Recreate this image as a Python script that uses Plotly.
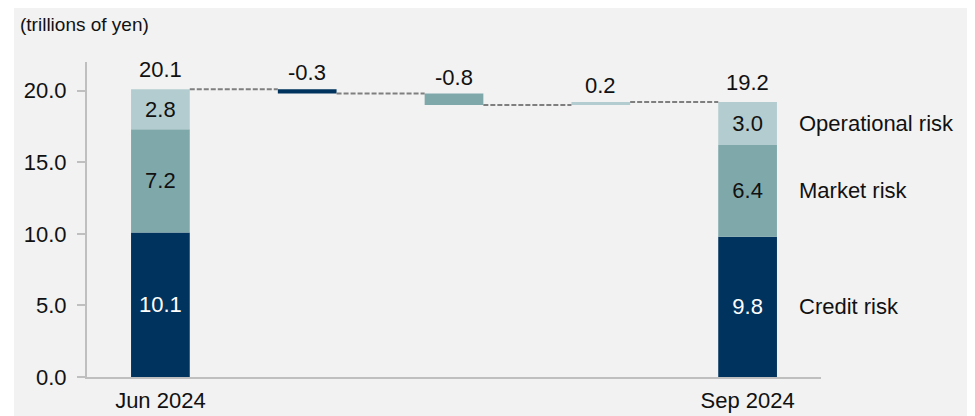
"""
Risk-weighted assets bridge, Jun 2024 -> Sep 2024
Stacked bars with floating change bars in between
"""

import plotly.graph_objects as go

# ---- data (trillions of yen) ----
periods = ["Jun 2024", "Sep 2024"]
risk_types = ["Credit risk", "Market risk", "Operational risk"]
jun_values = [10.1, 7.2, 2.8]
sep_values = [9.8, 6.4, 3.0]
jun_total = 20.1
sep_total = 19.2
changes = [-0.3, -0.8, 0.2]   # credit, market, operational

colors = ["#00335e", "#7fa8ab", "#b3cccf"]
text_colors = ["white", "#111111", "#111111"]

FONT = "Liberation Sans, Arial, sans-serif"
FS = 22
BAR_W = 0.4
DASH = dict(color="#7f7f7f", width=2, dash="5px,2px")

fig = go.Figure()

# stacked end bars at x=0 and x=4
x_ends = [0, 4]
base_jun, base_sep = 0.0, 0.0
for i, name in enumerate(risk_types):
    fig.add_trace(go.Bar(
        x=x_ends,
        y=[jun_values[i], sep_values[i]],
        base=[base_jun, base_sep],
        width=BAR_W,
        marker=dict(color=colors[i], line=dict(width=0)),
        text=[f"{jun_values[i]:.1f}", f"{sep_values[i]:.1f}"],
        textposition="inside",
        insidetextanchor="middle",
        textangle=0,
        constraintext="none",
        textfont=dict(family=FONT, size=FS, color=text_colors[i]),
        name=name,
        hoverinfo="skip",
    ))
    base_jun += jun_values[i]
    base_sep += sep_values[i]

# floating change bars at x=1,2,3 with dashed connectors
level = jun_total
connectors = [(0, level)]
for i, ch in enumerate(changes):
    new_level = round(level + ch, 2)
    lo = min(level, new_level)
    fig.add_trace(go.Bar(
        x=[i + 1],
        y=[abs(ch)],
        base=[lo],
        width=BAR_W,
        marker=dict(color=colors[i], line=dict(width=0)),
        hoverinfo="skip",
        showlegend=False,
    ))
    fig.add_annotation(
        x=i + 1, y=max(level, new_level), text=f"{ch:.1f}",
        showarrow=False, yanchor="bottom", yshift=2,
        font=dict(family=FONT, size=FS, color="#111111"),
    )
    level = new_level
    connectors.append((i + 1, level))
connectors.append((4, sep_total))

# dashed lines between neighbouring bars
for (x0, y0), (x1, _) in zip(connectors[:-1], connectors[1:]):
    fig.add_trace(go.Scatter(
        x=[x0 + BAR_W / 2, x1 - BAR_W / 2],
        y=[y0, y0],
        mode="lines",
        line=DASH,
        hoverinfo="skip",
        showlegend=False,
    ))

# totals above end bars
for x, tot in zip(x_ends, [jun_total, sep_total]):
    fig.add_annotation(
        x=x, y=tot, text=f"{tot:.1f}", showarrow=False,
        yanchor="bottom", yshift=5,
        font=dict(family=FONT, size=FS, color="#111111"),
    )

# series labels to the right of Sep bar
base = 0.0
for name, v in zip(risk_types, sep_values):
    fig.add_annotation(
        x=4 + BAR_W / 2, y=base + v / 2, text=name, showarrow=False,
        xanchor="left", xshift=20,
        font=dict(family=FONT, size=FS, color="#111111"),
    )
    base += v

# unit label
fig.add_annotation(
    xref="paper", yref="paper", x=-0.094, y=1.12,
    text="(trillions of yen)", showarrow=False,
    xanchor="left", yanchor="middle",
    font=dict(family=FONT, size=19, color="#111111"),
)

# white strip on the left edge of the picture
fig.add_shape(type="rect", xref="paper", yref="paper",
              x0=-0.2, x1=-0.0995, y0=-0.3, y1=1.3,
              fillcolor="white", line=dict(width=0), layer="below")

fig.update_layout(
    width=975,
    height=416,
    margin=dict(l=79, r=162, t=54, b=47),
    barmode="overlay",
    showlegend=False,
    paper_bgcolor="#f2f2f2",
    plot_bgcolor="#f2f2f2",
    font=dict(family=FONT, size=FS, color="#111111"),
    xaxis=dict(
        range=[-0.5, 4.5],
        tickvals=x_ends,
        ticktext=periods,
        ticks="",
        showline=True,
        linecolor="#bfbfbf",
        linewidth=2,
        showgrid=False,
        zeroline=False,
        automargin=False,
        ticklabelstandoff=3,
        tickfont=dict(family=FONT, size=FS, color="#111111"),
    ),
    yaxis=dict(
        range=[0, 22],
        tickvals=[0, 5, 10, 15, 20],
        tickformat=".1f",
        ticks="outside",
        ticklen=8,
        tickwidth=2,
        tickcolor="#bfbfbf",
        showline=True,
        linecolor="#bfbfbf",
        linewidth=2,
        showgrid=False,
        zeroline=False,
        automargin=False,
        ticklabelstandoff=6,
        tickfont=dict(family=FONT, size=FS, color="#111111"),
    ),
)

fig.write_html("out.html")
